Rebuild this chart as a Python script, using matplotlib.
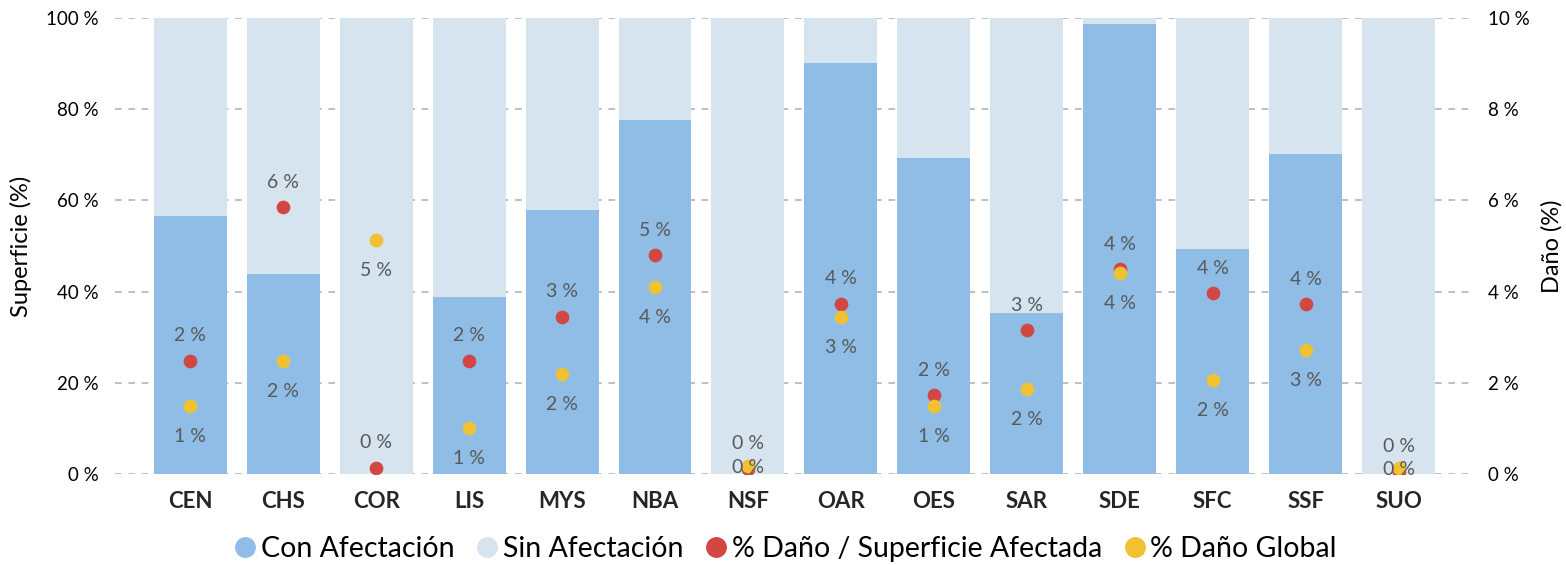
import matplotlib
import matplotlib.pyplot as plt
from matplotlib.lines import Line2D
import numpy as np

matplotlib.use("Agg")

# ----------------------------------------------------
# Data
# ----------------------------------------------------
zonas = ["CEN", "CHS", "COR", "LIS", "MYS", "NBA", "NSF",
         "OAR", "OES", "SAR", "SDE", "SFC", "SSF", "SUO"]

con_afectacion = [56.7, 43.9, 0.0, 38.8, 58.0, 77.7, 0.0,
                  90.1, 69.3, 35.4, 98.8, 49.4, 70.2, 0.0]
sin_afectacion = [100 - v for v in con_afectacion]

dano_sup_afectada = [2.49, 5.85, 0.14, 2.49, 3.45, 4.80, 0.12,
                     3.74, 1.73, 3.15, 4.49, 3.96, 3.72, 0.05]
dano_global = [1.49, 2.49, 5.13, 1.01, 2.19, 4.11, 0.18,
               3.45, 1.49, 1.87, 4.40, 2.07, 2.73, 0.14]

# ----------------------------------------------------
# Style
# ----------------------------------------------------
C_CON = "#8fbde6"
C_SIN = "#d6e4f0"
C_RED = "#d24643"
C_YEL = "#f0c232"
C_LBL = "#595959"

plt.rcParams["font.family"] = ["Lato", "DejaVu Sans"]

fig = plt.figure(figsize=(15.66, 5.65), dpi=100)
ax = fig.add_axes([0.0734, 0.161, 0.8672, 0.807])
ax2 = ax.twinx()

x = np.arange(len(zonas))

ax.set_axisbelow(True)
ax.yaxis.grid(True, color="#b4b4b4", linestyle=(0, (4, 4)), linewidth=1.2)

ax.bar(x, con_afectacion, width=0.785, color=C_CON, label="Con Afectación", zorder=2)
ax.bar(x, sin_afectacion, width=0.785, bottom=con_afectacion, color=C_SIN,
       label="Sin Afectación", zorder=2)

ax.set_xlim(-0.81, len(zonas) - 1 + 0.8)
ax.set_ylim(0, 100)
ax.set_yticks(range(0, 101, 20))
ax.set_yticklabels([f"{v} %" for v in range(0, 101, 20)], fontsize=13.5)
ax.set_xticks(x)
ax.set_xticklabels(zonas, fontsize=16, fontweight="bold", color="#262626")
ax.set_ylabel("Superficie (%)", fontsize=17, labelpad=10)
ax.tick_params(axis="both", length=0)
ax.tick_params(axis="x", pad=12)
ax.tick_params(axis="y", pad=12)

for s in ax.spines.values():
    s.set_visible(False)
for s in ax2.spines.values():
    s.set_visible(False)

# points on secondary axis
ax2.scatter(x, dano_sup_afectada, s=78, color=C_RED, zorder=4,
            label="% Daño / Superficie Afectada")
ax2.scatter(x, dano_global, s=78, color=C_YEL, zorder=5, label="% Daño Global")

for xi, v in zip(x, dano_sup_afectada):
    ax2.annotate(f"{round(v):.0f} %", (xi, v), xytext=(0, 18), textcoords="offset points",
                 ha="center", va="center", fontsize=14, color=C_LBL, zorder=6)
for xi, v in zip(x, dano_global):
    # labels near the floor stay inside the plot area
    off = -22 if v > 0.5 else -1
    ax2.annotate(f"{round(v):.0f} %", (xi, v), xytext=(0, off), textcoords="offset points",
                 ha="center", va="center", fontsize=14, color=C_LBL, zorder=6)

ax2.set_ylim(0, 10)
ax2.set_yticks(range(0, 11, 2))
ax2.set_yticklabels([f"{v} %" for v in range(0, 11, 2)], fontsize=13.5)
ax2.set_ylabel("Daño (%)", fontsize=17, labelpad=8)
ax2.tick_params(axis="y", length=0, pad=11)

# legend
l1 = [b.get_label() for b in ax.containers]
l2 = [c.get_label() for c in ax2.collections]
handles = [Line2D([], [], marker="o", linestyle="", markersize=14, color=c)
           for c in (C_CON, C_SIN, C_RED, C_YEL)]
fig.legend(handles, l1 + l2, loc="center", bbox_to_anchor=(0.5, 0.028), ncol=4,
           frameon=False, fontsize=20.5, handletextpad=0.0, columnspacing=0.6,
           handlelength=1.1)

plt.savefig("out.png", dpi=100)
plt.close()
